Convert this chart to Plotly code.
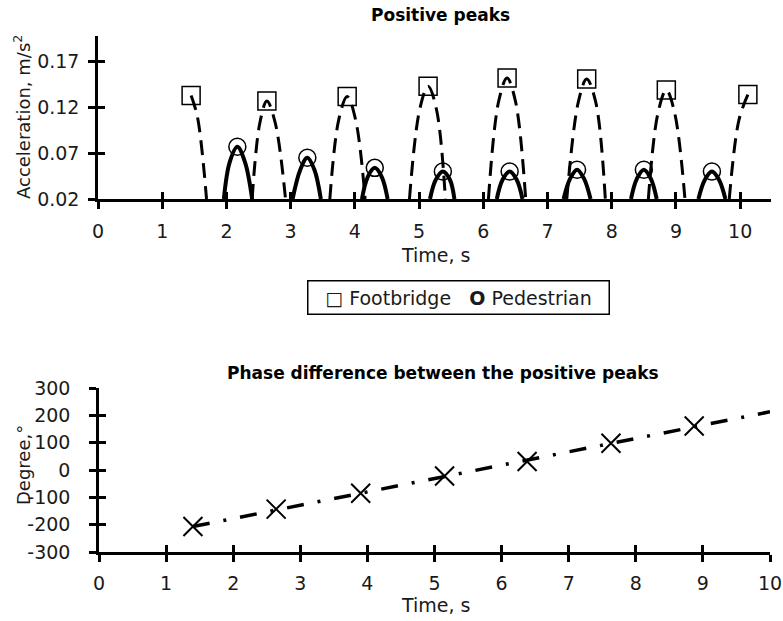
import plotly.graph_objects as go

# ---------------- data ----------------
base_a = 0.02  # lower limit of the acceleration axis, where the arcs are cut

# Footbridge positive peaks (time, s / acceleration, m/s2)
fb_peak_t = [1.45, 2.63, 3.88, 5.14, 6.37, 7.61, 8.85, 10.12]
fb_peak_a = [0.133, 0.127, 0.132, 0.143, 0.152, 0.151, 0.139, 0.134]
# dashed footbridge arcs: start / shoulders / end read along each arc
fb_start_t = [None, 2.40, 3.61, 4.85, 6.08, 7.30, 8.57, 9.83]
fb_lsh_t = [None, 2.52, 3.75, 5.01, 6.24, 7.48, 8.72, 9.98]
fb_rsh_t = [1.55, 2.76, 4.01, 5.27, 6.50, 7.75, 8.98, None]
fb_sh_a = [0.109, 0.103, 0.107, 0.118, 0.127, 0.126, 0.114, 0.106]
fb_end_t = [1.69, 2.92, 4.16, 5.41, 6.66, 7.90, 9.14, None]

# Pedestrian positive peaks
ped_peak_t = [2.17, 3.26, 4.31, 5.37, 6.41, 7.46, 8.50, 9.56]
ped_peak_a = [0.077, 0.065, 0.054, 0.050, 0.050, 0.052, 0.052, 0.050]
ped_start_t = [1.96, 3.03, 4.11, 5.17, 6.21, 7.25, 8.30, 9.35]
ped_lsh_t = [2.05, 3.15, 4.20, 5.26, 6.30, 7.35, 8.39, 9.45]
ped_rsh_t = [2.29, 3.37, 4.42, 5.48, 6.52, 7.57, 8.61, 9.67]
ped_sh_a = [0.060, 0.052, 0.044, 0.041, 0.041, 0.042, 0.042, 0.041]
ped_end_t = [2.40, 3.47, 4.51, 5.55, 6.61, 7.67, 8.70, 9.77]

# Phase difference between positive peaks
phase_t = [1.40, 2.64, 3.90, 5.15, 6.38, 7.63, 8.87]
phase_deg = [-207, -143, -85, -22, 31, 98, 161]
trend_t = [1.40, 10.0]
trend_deg = [-207, 213]

top_yticks = [0.02, 0.07, 0.12, 0.17]
top_yticklabels = ["0.02", "0.07", "0.12", "0.17"]
xticks = list(range(0, 11))
xticklabels = [str(v) for v in xticks]
bot_yticks = [-300, -200, -100, 0, 100, 200, 300]
bot_yticklabels = ["-300", "-200", "-100", "0", "100", "200", "300"]


def arcs(starts, lsh, peak_t, peak_a, rsh, sh_a, ends):
    xs, ys = [], []
    for s, l, t, a, r, sa, e in zip(starts, lsh, peak_t, peak_a, rsh, sh_a, ends):
        if s is not None:
            xs.append(s); ys.append(base_a)
        if l is not None:
            xs.append(l); ys.append(sa)
        xs.append(t); ys.append(a)
        if r is not None:
            xs.append(r); ys.append(sa)
        if e is not None:
            xs.append(e); ys.append(base_a)
        xs.append(None); ys.append(None)
    return xs, ys


FONT = "DejaVu Sans"
BLACK = "#000000"
TXT = "#1a1a1a"

fig = go.Figure()

fbx, fby = arcs(fb_start_t, fb_lsh_t, fb_peak_t, fb_peak_a, fb_rsh_t, fb_sh_a, fb_end_t)
pdx, pdy = arcs(ped_start_t, ped_lsh_t, ped_peak_t, ped_peak_a, ped_rsh_t, ped_sh_a, ped_end_t)

fig.add_trace(go.Scatter(x=fbx, y=fby, mode="lines", xaxis="x", yaxis="y",
                         line=dict(color=BLACK, width=3, dash="15px,8px", shape="spline"),
                         connectgaps=False, showlegend=False))
fig.add_trace(go.Scatter(x=pdx, y=pdy, mode="lines", xaxis="x", yaxis="y",
                         line=dict(color=BLACK, width=4, shape="spline"),
                         connectgaps=False, showlegend=False))
fig.add_trace(go.Scatter(x=fb_peak_t, y=fb_peak_a, mode="markers", xaxis="x", yaxis="y",
                         marker=dict(symbol="square-open", size=18, color=BLACK,
                                     line=dict(width=1.5, color=BLACK)),
                         cliponaxis=False, name="Footbridge", showlegend=False))
fig.add_trace(go.Scatter(x=ped_peak_t, y=ped_peak_a, mode="markers", xaxis="x", yaxis="y",
                         marker=dict(symbol="circle-open", size=17, color=BLACK,
                                     line=dict(width=1.5, color=BLACK)),
                         cliponaxis=False, name="Pedestrian", showlegend=False))

fig.add_trace(go.Scatter(x=trend_t, y=trend_deg, mode="lines", xaxis="x2", yaxis="y2",
                         line=dict(color=BLACK, width=3.5, dash="17px,14px,3px,14px"),
                         showlegend=False))
fig.add_trace(go.Scatter(x=phase_t, y=phase_deg, mode="markers", xaxis="x2", yaxis="y2",
                         marker=dict(symbol="x-thin-open", size=19, color=BLACK,
                                     line=dict(width=2, color=BLACK)),
                         cliponaxis=False, showlegend=False))

# empty traces for overlay axes (inner halves of the cross ticks)
fig.add_trace(go.Scatter(x=[], y=[], xaxis="x3", yaxis="y3", showlegend=False))
fig.add_trace(go.Scatter(x=[], y=[], xaxis="x4", yaxis="y4", showlegend=False))

W, H = 783, 621
top_dom_x = [98 / W, 771 / W]
top_dom_y = [1 - 199 / H, 1 - 36 / H]
bot_dom_x = [99 / W, 770 / W]
bot_dom_y = [1 - 552 / H, 1 - 388 / H]

top_xr = [0, 10.48]
top_yr = [0.02, 0.198]
bot_xr = [0, 10]
bot_yr = [-300, 300]

tickfont = dict(family=FONT, size=19, color=TXT)
common = dict(showgrid=False, zeroline=False, showline=True, linecolor=BLACK, linewidth=2.5,
              ticks="outside", ticklen=7, tickwidth=2.5, tickcolor=BLACK, tickfont=tickfont,
              fixedrange=True, automargin=False)
inner = dict(showgrid=False, zeroline=False, showline=False, ticks="inside", ticklen=7,
             tickwidth=2.5, tickcolor=BLACK, showticklabels=False, fixedrange=True)

fig.update_layout(
    width=W, height=H,
    margin=dict(l=0, r=0, t=0, b=0),
    paper_bgcolor="white", plot_bgcolor="white",
    showlegend=False,
    xaxis=dict(domain=top_dom_x, anchor="y", range=top_xr, tickvals=xticks,
               ticktext=xticklabels, ticklabelstandoff=6, **common),
    yaxis=dict(domain=top_dom_y, anchor="x", range=top_yr, tickvals=top_yticks,
               ticktext=top_yticklabels, ticklabelstandoff=5, **common),
    xaxis2=dict(domain=bot_dom_x, anchor="y2", range=bot_xr, tickvals=xticks,
                ticktext=xticklabels, ticklabelstandoff=5, **common),
    yaxis2=dict(domain=bot_dom_y, anchor="x2", range=bot_yr, tickvals=bot_yticks,
                ticktext=bot_yticklabels, ticklabelstandoff=15, **common),
    xaxis3=dict(overlaying="x", anchor="y3", range=top_xr, tickvals=xticks, **inner),
    yaxis3=dict(overlaying="y", anchor="x3", range=top_yr, tickvals=top_yticks, **inner),
    xaxis4=dict(overlaying="x2", anchor="y4", range=bot_xr, tickvals=xticks, **inner),
    yaxis4=dict(overlaying="y2", anchor="x4", range=bot_yr, tickvals=bot_yticks, **inner),
)

ann = []
ann.append(dict(text="<b>Positive peaks</b>", x=440 / W, y=1 - 15 / H, xref="paper", yref="paper",
                showarrow=False, font=dict(family=FONT, size=17, color=BLACK), xanchor="center",
                yanchor="middle"))
ann.append(dict(text="<b>Phase difference between the positive peaks</b>", x=443 / W, y=1 - 373 / H,
                xref="paper", yref="paper", showarrow=False,
                font=dict(family=FONT, size=17, color=BLACK), xanchor="center", yanchor="middle"))
ann.append(dict(text="Time, s", x=435 / W, y=1 - 255 / H, xref="paper", yref="paper",
                showarrow=False, font=dict(family=FONT, size=19, color=TXT),
                xanchor="center", yanchor="middle"))
ann.append(dict(text="Time, s", x=435 / W, y=1 - 605 / H, xref="paper", yref="paper",
                showarrow=False, font=dict(family=FONT, size=19, color=TXT),
                xanchor="center", yanchor="middle"))
ann.append(dict(text="Acceleration, m/s<sup>2</sup>", x=22 / W, y=1 - 117 / H, xref="paper",
                yref="paper", showarrow=False, textangle=-90,
                font=dict(family=FONT, size=18, color=TXT), xanchor="center", yanchor="middle"))
ann.append(dict(text="Degree,°", x=23 / W, y=1 - 465 / H, xref="paper", yref="paper",
                showarrow=False, textangle=-90, font=dict(family=FONT, size=18, color=TXT),
                xanchor="center", yanchor="middle"))
ann.append(dict(text="□ Footbridge   <b>O</b> Pedestrian", x=459 / W, y=1 - 297 / H,
                xref="paper", yref="paper", showarrow=False,
                font=dict(family=FONT, size=19, color=TXT), xanchor="center", yanchor="middle",
                width=298, height=30, bordercolor=BLACK, borderwidth=1.5, borderpad=1,
                bgcolor="white"))
fig.update_layout(annotations=ann)

fig.write_html("out.html", config={"displayModeBar": False},
               post_script="document.body.style.margin='0';document.body.style.overflow='hidden';")
